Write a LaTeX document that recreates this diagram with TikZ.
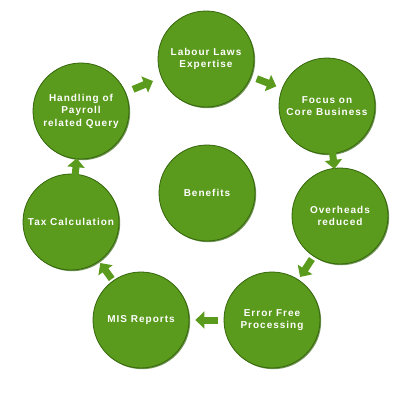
\documentclass[tikz,border=0pt]{standalone}
\usepackage{fontspec}
\newfontfamily\bubblefont[LetterSpace=10]{Liberation Sans}
\usetikzlibrary{arrows.meta}
\definecolor{leaf}{RGB}{90,154,28}
\definecolor{leafdark}{RGB}{52,102,12}

\begin{document}
\begin{tikzpicture}[x=1pt, y=-1pt,
  bubble/.style={circle, minimum size=96pt, inner sep=0pt, fill=leaf,
    draw=leafdark, line width=0.8pt, text=white, align=center,
    font=\bubblefont\fontsize{10}{12.5}\selectfont\bfseries,
    preaction={fill=leafdark!70, transform canvas={shift={(1.2pt,-1.2pt)}}}},
  flow/.style={draw=leaf, line width=7pt, -{Triangle[length=9pt,width=17pt]}}]
\useasboundingbox (0,0) rectangle (402,400);
\node[bubble] (labour) at (206,59) {Labour Laws\\Expertise};
\node[bubble] (focus) at (327,106) {Focus on\\Core Business};
\node[bubble] (overheads) at (340,216) {Overheads\\reduced};
\node[bubble] (errorfree) at (272,320) {Error Free\\Processing};
\node[bubble] (mis) at (141,320) {MIS Reports};
\node[bubble] (tax) at (71,222) {Tax Calculation};
\node[bubble] (payroll) at (81,111) {Handling of\\Payroll\\related Query};
\node[bubble] (benefits) at (207,193) {Benefits};
% arrows round the ring
\draw[flow, shorten <=8pt, shorten >=9pt] (payroll) -- (labour);
\draw[flow, shorten <=6pt, shorten >=6pt] (labour) -- (focus);
\draw[flow, shorten <=-2pt, shorten >=-1pt] (focus) -- (overheads);
\draw[flow, shorten <=3pt, shorten >=3pt] (overheads) -- (errorfree);
\draw[flow, shorten <=6pt, shorten >=6pt] (errorfree) -- (mis);
\draw[flow, shorten <=2pt, shorten >=2pt] (mis) -- (tax);
\draw[flow, shorten <=-2pt, shorten >=-1pt] (tax) -- (payroll);
\end{tikzpicture}
\end{document}
